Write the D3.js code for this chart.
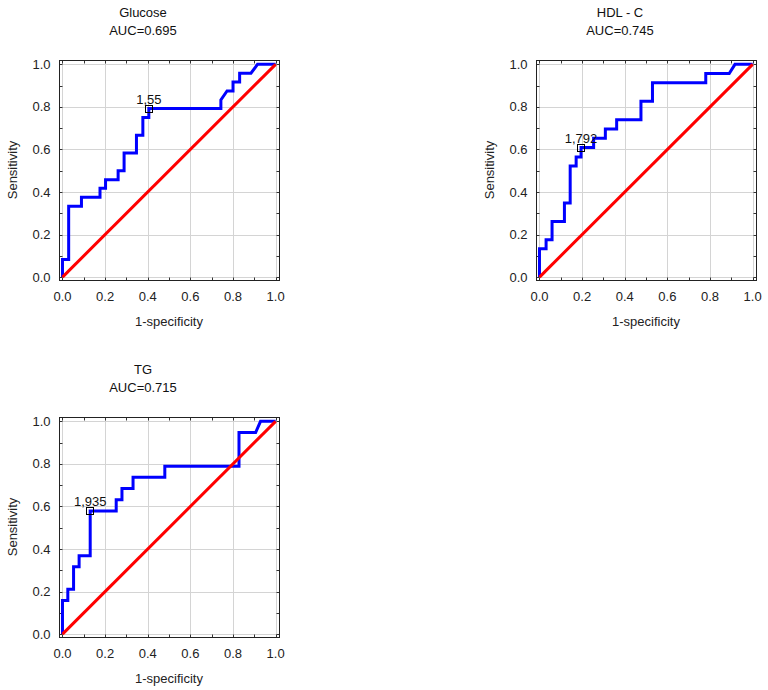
<!DOCTYPE html>
<html>
<head>
<meta charset="utf-8">
<script src="https://cdn.jsdelivr.net/npm/d3@7"></script>
<style>
  html, body { margin: 0; padding: 0; background: #fff; }
  svg { display: block; }
  text { font-family: "Liberation Sans", Arial, sans-serif; }
</style>
</head>
<body>
<svg id="chart" width="768" height="690"></svg>
<script>
// ---- Data ----
const titles = ["Glucose", "HDL - C", "TG"];
const aucLabels = ["AUC=0.695", "AUC=0.745", "AUC=0.715"];
const cutoffLabels = ["1,55", "1,792", "1,935"];

const glucoseFpr = [0, 0, 0.029, 0.029, 0.089, 0.089, 0.176, 0.176, 0.202, 0.202, 0.261, 0.261, 0.289, 0.289, 0.347, 0.347, 0.377, 0.377, 0.405, 0.405, 0.743, 0.743, 0.772, 0.8, 0.8, 0.831, 0.831, 0.884, 0.915, 1.0];
const glucoseTpr = [0, 0.083, 0.083, 0.333, 0.333, 0.375, 0.375, 0.417, 0.417, 0.458, 0.458, 0.5, 0.5, 0.583, 0.583, 0.667, 0.667, 0.75, 0.75, 0.792, 0.792, 0.833, 0.875, 0.875, 0.917, 0.917, 0.958, 0.958, 1.0, 1.0];

const hdlFpr = [0, 0, 0.031, 0.031, 0.059, 0.059, 0.117, 0.117, 0.144, 0.144, 0.172, 0.172, 0.195, 0.195, 0.254, 0.254, 0.309, 0.309, 0.362, 0.362, 0.476, 0.476, 0.53, 0.53, 0.78, 0.78, 0.89, 0.917, 1.0];
const hdlTpr = [0, 0.133, 0.133, 0.175, 0.175, 0.261, 0.261, 0.348, 0.348, 0.522, 0.522, 0.565, 0.565, 0.609, 0.609, 0.652, 0.652, 0.696, 0.696, 0.739, 0.739, 0.826, 0.826, 0.913, 0.913, 0.957, 0.957, 1.0, 1.0];

const tgFpr = [0, 0, 0.025, 0.025, 0.052, 0.052, 0.078, 0.078, 0.13, 0.13, 0.252, 0.252, 0.279, 0.279, 0.331, 0.331, 0.48, 0.48, 0.828, 0.828, 0.906, 0.929, 1.0];
const tgTpr = [0, 0.158, 0.158, 0.211, 0.211, 0.316, 0.316, 0.368, 0.368, 0.579, 0.579, 0.632, 0.632, 0.684, 0.684, 0.737, 0.737, 0.789, 0.789, 0.947, 0.947, 1.0, 1.0];

const cutoffFpr = [0.405, 0.195, 0.13];
const cutoffTpr = [0.792, 0.609, 0.579];

const majorTicks = [0, 0.2, 0.4, 0.6, 0.8, 1.0];
const tickLabels = ["0.0", "0.2", "0.4", "0.6", "0.8", "1.0"];
const minorTicks = [0, 0.1, 0.2, 0.3, 0.4, 0.5, 0.6, 0.7, 0.8, 0.9, 1.0];
const diagonal = [0, 1];

const xLabel = "1-specificity";
const yLabel = "Sensitivity";

// ---- Layout ----
const panelPos = [[59, 60], [536, 60], [59, 417]];
const seriesFpr = [glucoseFpr, hdlFpr, tgFpr];
const seriesTpr = [glucoseTpr, hdlTpr, tgTpr];

const W = 220, H = 220;
const svg = d3.select("#chart");

const x = d3.scaleLinear().domain([-0.014, 1.018]).range([0.5, W + 0.5]);
const y = d3.scaleLinear().domain([-0.016, 1.018]).range([H + 0.5, 0.5]);

const line = d3.line().x(d => x(d[0])).y(d => y(d[1]));

for (let p = 0; p < 3; p++) {
  const g = svg.append("g").attr("transform", `translate(${panelPos[p][0]},${panelPos[p][1]})`);

  // gridlines
  g.selectAll(".gx").data(majorTicks).join("line")
    .attr("x1", d => Math.round(x(d)) + 0.5).attr("x2", d => Math.round(x(d)) + 0.5)
    .attr("y1", 0.5).attr("y2", H + 0.5)
    .attr("stroke", "#d4d4d4").attr("stroke-width", 1);
  g.selectAll(".gy").data(majorTicks).join("line")
    .attr("y1", d => Math.round(y(d)) + 0.5).attr("y2", d => Math.round(y(d)) + 0.5)
    .attr("x1", 0.5).attr("x2", W + 0.5)
    .attr("stroke", "#d4d4d4").attr("stroke-width", 1);

  // minor ticks on all four sides (inward)
  const tl = 3;
  const tg = g.append("g").attr("stroke", "#333").attr("stroke-width", 1);
  minorTicks.forEach(v => {
    const xv = Math.round(x(v)) + 0.5, yv = Math.round(y(v)) + 0.5;
    tg.append("line").attr("x1", xv).attr("x2", xv).attr("y1", H + 0.5).attr("y2", H + 0.5 - tl);
    tg.append("line").attr("x1", xv).attr("x2", xv).attr("y1", 0.5).attr("y2", 0.5 + tl);
    tg.append("line").attr("y1", yv).attr("y2", yv).attr("x1", 0.5).attr("x2", 0.5 + tl);
    tg.append("line").attr("y1", yv).attr("y2", yv).attr("x1", W + 0.5).attr("x2", W + 0.5 - tl);
  });

  // frame
  g.append("rect").attr("x", 0.5).attr("y", 0.5).attr("width", W).attr("height", H)
    .attr("fill", "none").attr("stroke", "#222").attr("stroke-width", 1);

  // ROC curve
  const pts = seriesFpr[p].map((f, i) => [f, seriesTpr[p][i]]);
  g.append("path").datum(pts).attr("d", line)
    .attr("fill", "none").attr("stroke", "#0000ff").attr("stroke-width", 3)
    .attr("stroke-linejoin", "miter");

  // diagonal reference
  g.append("path").datum(diagonal.map(v => [v, v])).attr("d", line)
    .attr("fill", "none").attr("stroke", "#ff0000").attr("stroke-width", 3);

  // cutoff marker
  const cx = x(cutoffFpr[p]), cy = y(cutoffTpr[p]);
  g.append("rect").attr("x", Math.round(cx) - 3.5).attr("y", Math.round(cy) - 3.5)
    .attr("width", 7).attr("height", 7)
    .attr("fill", "none").attr("stroke", "#000").attr("stroke-width", 1);
  g.append("text").attr("x", cx).attr("y", cy - 5)
    .attr("text-anchor", "middle").attr("font-size", 13).attr("fill", "#111")
    .text(cutoffLabels[p]);

  // titles
  g.append("text").attr("x", 84).attr("y", -43.5)
    .attr("text-anchor", "middle").attr("font-size", 13).attr("fill", "#111").text(titles[p]);
  g.append("text").attr("x", 84).attr("y", -25)
    .attr("text-anchor", "middle").attr("font-size", 13).attr("fill", "#111").text(aucLabels[p]);

  // tick labels
  g.selectAll(".xt").data(majorTicks).join("text")
    .attr("x", d => x(d)).attr("y", H + 21)
    .attr("text-anchor", "middle").attr("font-size", 13).attr("fill", "#222")
    .text((d, i) => tickLabels[i]);
  g.selectAll(".yt").data(majorTicks).join("text")
    .attr("x", -8.5).attr("y", d => y(d)).attr("dy", "0.35em")
    .attr("text-anchor", "end").attr("font-size", 13).attr("fill", "#222")
    .text((d, i) => tickLabels[i]);

  // axis labels
  g.append("text").attr("x", W / 2).attr("y", H + 45.5)
    .attr("text-anchor", "middle").attr("font-size", 13).attr("fill", "#222").text(xLabel);
  g.append("text").attr("transform", `translate(-46.5,${H / 2}) rotate(-90)`)
    .attr("dy", "0.35em")
    .attr("text-anchor", "middle").attr("font-size", 13).attr("fill", "#222").text(yLabel);
}
</script>
</body>
</html>
